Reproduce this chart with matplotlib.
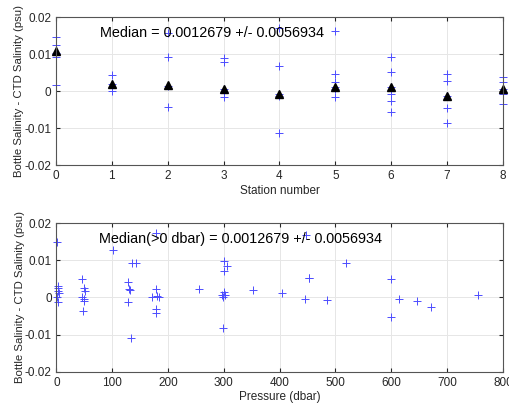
import numpy as np
import matplotlib
matplotlib.use('Agg')
import matplotlib.pyplot as plt

# salinity differences per station (bottle - CTD, psu)
station_vals = {
    0: [0.0148, 0.0125, 0.0104, 0.0093, 0.0016],
    1: [0.0045, 0.0020, 0.0000],
    2: [0.0157, 0.0093, 0.0014, -0.0043],
    3: [0.0089, 0.0080, 0.0005, -0.0015],
    4: [0.0172, 0.0069, -0.0006, -0.0013, -0.0114],
    5: [0.0163, 0.0048, 0.0025, 0.0012, 0.0007, -0.0014],
    6: [0.0094, 0.0051, 0.0012, -0.0008, -0.0027, -0.0056],
    7: [0.0048, 0.0028, -0.0013, -0.0044, -0.0085],
    8: [0.0038, 0.0025, 0.0007, -0.0008, -0.0035],
}
station_mean = [0.0110, 0.0019, 0.0016, 0.0005, -0.0006, 0.0012, 0.0012, -0.0013, 0.0007]

# salinity differences vs pressure
pressure = [1, 2, 3, 2, 4, 1, 3,
            46, 49, 46, 51, 50, 50, 47,
            101, 135, 143, 129, 130, 132, 128, 133,
            178, 180, 172, 184, 179, 179, 178,
            255, 301, 306, 300, 300, 296, 302, 299, 299, 352,
            405, 452, 453, 446, 485, 519, 448,
            600, 613, 599, 646, 672, 756]
sal_diff = [0.0150, 0.0031, 0.0025, 0.0018, 0.0013, 0.0002, -0.0012,
            0.0049, 0.0026, 0.0002, 0.0018, -0.0005, -0.0010, -0.0036,
            0.0128, 0.0093, 0.0093, 0.0042, 0.0022, 0.0019, -0.0011, -0.0108,
            0.0022, 0.0004, 0.0002, 0.0001, -0.0032, -0.0041, 0.0173,
            0.0022, 0.0099, 0.0085, 0.0070, 0.0016, 0.0007, 0.0007, 0.0002, -0.0081, 0.0020,
            0.0013, 0.0052, 0.0053, -0.0005, -0.0007, 0.0094, 0.0169,
            0.0050, -0.0004, -0.0053, -0.0010, -0.0025, 0.0006]

med_txt = 'Median = 0.0012679 +/- 0.0056934'
med_txt2 = 'Median(>0 dbar) = 0.0012679 +/- 0.0056934'

matplotlib.rcParams.update({'font.size': 8, 'font.family': 'Liberation Sans'})
dark = '#262626'
pcol = '#4d4dff'
ylab = 'Bottle Salinity - CTD Salinity (psu)'
yt = [-0.02, -0.01, 0, 0.01, 0.02]
ytl = ['-0.02', '-0.01', '0', '0.01', '0.02']

fig = plt.figure(figsize=(5.09, 4.05), dpi=100)
ax1 = fig.add_axes([0.110, 0.592, 0.878, 0.365])
ax2 = fig.add_axes([0.111, 0.082, 0.877, 0.367])

for ax in (ax1, ax2):
    ax.grid(True, color='#e6e6e6', linewidth=0.7)
    ax.set_axisbelow(True)
    ax.tick_params(direction='in', length=3, colors=dark, labelsize=8.5,
                   top=True, right=True, labeltop=False, labelright=False)
    for s in ax.spines.values():
        s.set_color('#555555')
        s.set_linewidth(0.8)
    ax.set_ylim(-0.02, 0.02)
    ax.set_yticks(yt)
    ax.set_yticklabels(ytl)
    ax.set_ylabel(ylab, color=dark, fontsize=8.2, labelpad=0)

# station plot
for st, vals in station_vals.items():
    ax1.plot([st] * len(vals), vals, '+', color=pcol,
             markersize=6, mew=0.7, clip_on=False)
ax1.plot(range(len(station_mean)), station_mean, '^', color='black',
         markersize=5.5, clip_on=False)
ax1.set_xlim(0, 8)
ax1.set_xticks(range(9))
ax1.set_xlabel('Station number', color=dark, fontsize=8.5, labelpad=2)
ax1.text(0.79, 0.0158, med_txt, fontsize=10.4, va='center', color='black')

# pressure plot
ax2.plot(pressure, sal_diff, '+', color=pcol,
         markersize=6, mew=0.7, clip_on=False)
ax2.set_xlim(0, 800)
ax2.set_xticks(range(0, 801, 100))
ax2.set_xlabel('Pressure (dbar)', color=dark, fontsize=8.5, labelpad=2)
ax2.text(77, 0.0158, med_txt2, fontsize=10.4, va='center', color='black')

fig.savefig('out.png', dpi=100)
